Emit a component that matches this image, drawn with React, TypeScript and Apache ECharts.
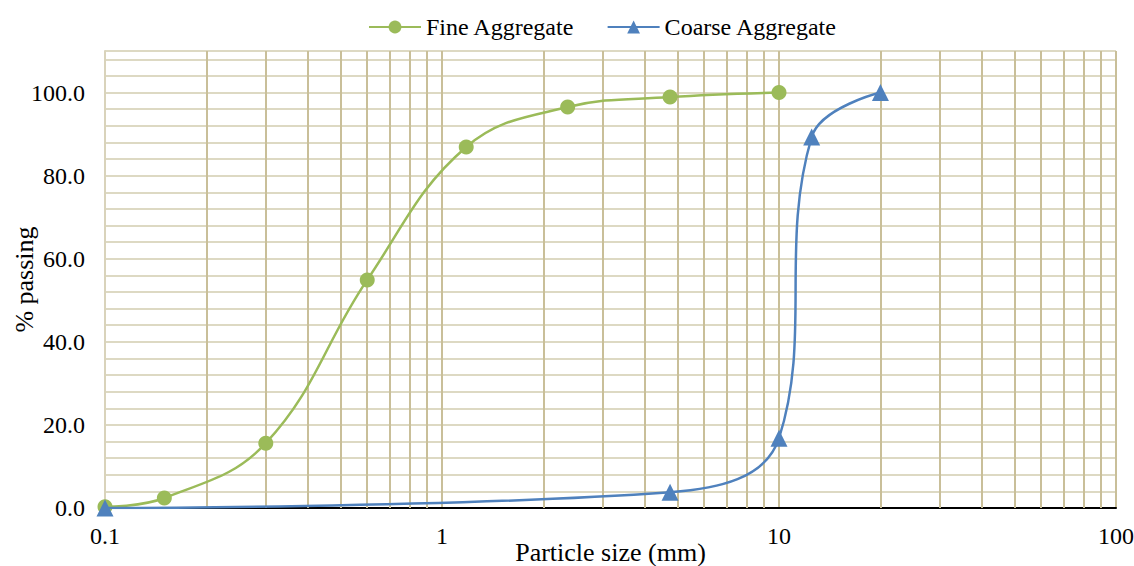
import React, { useEffect, useRef } from "react";
import * as echarts from "echarts";

const fineSize = [0.1, 0.15, 0.3, 0.6, 1.18, 2.36, 4.75, 10];
const finePassing = [0.3, 2.4, 15.6, 54.9, 86.9, 96.5, 98.9, 100];
const coarseSize = [0.1, 4.75, 10, 12.5, 20];
const coarsePassing = [0, 3.8, 16.8, 89.3, 100];
const minorX = [0.2, 0.3, 0.4, 0.5, 0.6, 0.7, 0.8, 0.9, 2, 3, 4, 5, 6, 7, 8, 9, 20, 30, 40, 50, 60, 70, 80, 90];
const xTicks = [0.1, 1, 10, 100];

const FONT = "Liberation Serif";

export default function App() {
  const ref = useRef<HTMLDivElement>(null);
  useEffect(() => {
    const chart = echarts.init(ref.current!, null, { renderer: "svg" });
    chart.setOption({
      animation: false,
      textStyle: { fontFamily: FONT, color: "#000" },
      legend: {
        top: 10,
        left: 363,
        itemWidth: 52,
        itemHeight: 16,
        itemGap: 32,
        textStyle: { fontFamily: FONT, fontSize: 24, color: "#000" },
        data: ["Fine Aggregate", "Coarse Aggregate"],
      },
      grid: { left: 105, right: 18, top: 51, bottom: 58, outerBoundsMode: "none", containLabel: false },
      xAxis: {
        type: "log",
        logBase: 10,
        min: 0.1,
        max: 100,
        name: "Particle size (mm)",
        nameLocation: "middle",
        nameGap: 31,
        nameMoveOverlap: false,
        nameTextStyle: { fontFamily: FONT, fontSize: 26, color: "#000" },
        axisLine: { show: true, lineStyle: { color: "#000", width: 2 } },
        axisTick: { show: false },
        axisLabel: {
          fontFamily: FONT,
          fontSize: 24,
          color: "#000",
          margin: 16,
          formatter: (v: number) => (xTicks.some((t) => Math.abs(t - v) < 1e-9) ? String(v) : ""),
        },
        splitLine: { show: true, lineStyle: { color: "#C9BF99", width: 2 } },
      },
      yAxis: {
        type: "value",
        min: 0,
        max: 110,
        interval: 4,
        name: "% passing",
        nameLocation: "middle",
        nameGap: 68,
        nameMoveOverlap: false,
        nameRotate: 90,
        nameTextStyle: { fontFamily: FONT, fontSize: 26, color: "#000" },
        axisLine: { show: true, lineStyle: { color: "#D9D3BB", width: 2 } },
        axisTick: { show: false },
        axisLabel: {
          fontFamily: FONT,
          fontSize: 24,
          color: "#000",
          margin: 20,
          formatter: (v: number) => (v % 20 === 0 ? v.toFixed(1) : ""),
        },
        splitLine: { show: true, lineStyle: { color: "#DDD9C3", width: 2 } },
      },
      series: [
        {
          name: "grid",
          type: "line",
          data: [],
          silent: true,
          markLine: {
            silent: true,
            symbol: "none",
            label: { show: false },
            lineStyle: { color: "#C9BF99", width: 2, type: "solid" },
            data: minorX.map((v) => ({ xAxis: v })),
          },
        },
        {
          name: "Fine Aggregate",
          type: "line",
          smooth: 0.4,
          data: fineSize.map((x, i) => [x, finePassing[i]]),
          symbol: "circle",
          symbolSize: 15,
          color: "#9BBB59",
          lineStyle: { width: 2.5, color: "#9BBB59" },
          itemStyle: { color: "#9BBB59" },
          z: 5,
        },
        {
          name: "Coarse Aggregate",
          type: "line",
          smooth: 0.4,
          data: coarseSize.map((x, i) => [x, coarsePassing[i]]),
          symbol: "triangle",
          symbolSize: 17,
          color: "#4F81BD",
          lineStyle: { width: 2.5, color: "#4F81BD" },
          itemStyle: { color: "#4F81BD" },
          z: 6,
        },
      ],
    });
    return () => chart.dispose();
  }, []);
  return <div ref={ref} style={{ position: "absolute", left: 0, top: 0, width: 1134, height: 566 }} />;
}
